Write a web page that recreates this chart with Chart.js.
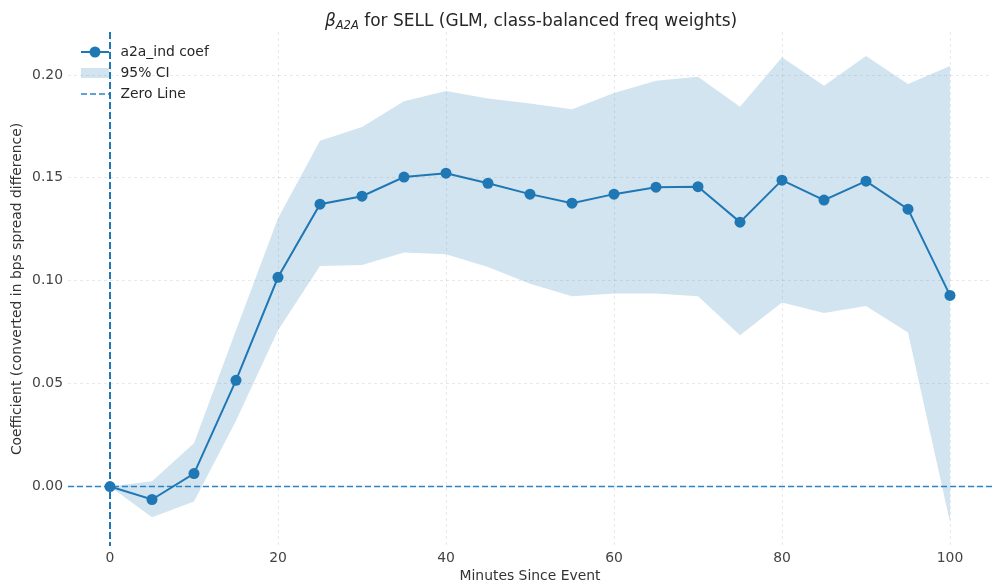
<!DOCTYPE html>
<html>
<head>
<meta charset="utf-8">
<script src="https://cdn.jsdelivr.net/npm/chart.js@4.4.0/dist/chart.umd.min.js"></script>
<style>
html,body{margin:0;padding:0;background:#fff;}
#wrap{width:992px;height:587px;position:relative;}
</style>
</head>
<body>
<div id="wrap"><canvas id="c" width="992" height="587"></canvas></div>
<script>
// ---- data ----
const minutes = [0,5,10,15,20,25,30,35,40,45,50,55,60,65,70,75,80,85,90,95,100];
const coef    = [0,-0.0063,0.0063,0.0516,0.1017,0.1372,0.1411,0.1504,0.1523,0.1474,0.1421,0.1377,0.1421,0.1455,0.1457,0.1285,0.1489,0.1392,0.1484,0.1348,0.0929];
const ciUpper = [0,0.0026,0.0210,0.0760,0.1304,0.1680,0.1747,0.1873,0.1922,0.1886,0.1862,0.1834,0.1912,0.1972,0.1992,0.1846,0.2086,0.1948,0.2092,0.1956,0.2044];
const ciLower = [0,-0.0149,-0.0073,0.0320,0.0759,0.1072,0.1077,0.1137,0.1129,0.1067,0.0986,0.0925,0.0938,0.0938,0.0925,0.0735,0.0894,0.0843,0.0877,0.0748,-0.0174];
const xTicks  = [0,20,40,60,80,100];
const yTicks  = [0,0.05,0.10,0.15,0.20];
const zeroX = 0;
const zeroY = 0;

const BLUE = '#1f77b4';
const ZBLUE = '#2a85c8';
const BAND = 'rgba(31,119,180,0.2)';
const FONT = "'DejaVu Sans', sans-serif";

const toPts = (ys) => minutes.map((m, i) => ({x: m, y: ys[i]}));

const overlay = {
  id: 'overlay',
  afterDatasetDraw(chart, args) {
    if (args.index !== 1) return;
    const {ctx, chartArea: a, scales: {x, y}} = chart;
    ctx.save();
    // horizontal zero line
    ctx.strokeStyle = ZBLUE;
    ctx.lineWidth = 1.6;
    ctx.setLineDash([6, 3]);
    const py = Math.floor(y.getPixelForValue(zeroY)) + 0.5;
    ctx.beginPath(); ctx.moveTo(a.left, py); ctx.lineTo(a.right, py); ctx.stroke();
    // vertical event line
    ctx.strokeStyle = BLUE;
    ctx.lineWidth = 2;
    ctx.setLineDash([7, 3]);
    const px = Math.round(x.getPixelForValue(zeroX));
    ctx.beginPath(); ctx.moveTo(px, a.top); ctx.lineTo(px, a.bottom); ctx.stroke();
    ctx.restore();
  },
  afterDraw(chart) {
    const {ctx} = chart;
    ctx.save();
    // title
    const big = 17, sub = 11.5;
    const rest = ' for SELL (GLM, class-balanced freq weights)';
    ctx.fillStyle = '#262626';
    ctx.textBaseline = 'alphabetic';
    ctx.font = `italic ${big}px ${FONT}`;
    const wb = ctx.measureText('\u03B2').width;
    ctx.font = `italic ${sub}px ${FONT}`;
    const ws = ctx.measureText('A2A').width;
    ctx.font = `${big}px ${FONT}`;
    const wr = ctx.measureText(rest).width;
    const a = chart.chartArea;
    let tx = (a.left + a.right) / 2 - (wb + ws + wr) / 2 + 1;
    const base = 25.5;
    ctx.textAlign = 'left';
    ctx.font = `italic ${big}px ${FONT}`;
    ctx.fillText('\u03B2', tx, base); tx += wb;
    ctx.font = `italic ${sub}px ${FONT}`;
    ctx.fillText('A2A', tx, base + 3.5); tx += ws;
    ctx.font = `${big}px ${FONT}`;
    ctx.fillText(rest, tx, base);

    // legend
    const lx0 = 81, lx1 = 109, tX = 120.5;
    const rows = [52, 73, 94];
    ctx.font = `13.9px ${FONT}`;
    ctx.textBaseline = 'middle';
    ctx.strokeStyle = BLUE; ctx.lineWidth = 2; ctx.setLineDash([]);
    ctx.beginPath(); ctx.moveTo(lx0, rows[0]); ctx.lineTo(lx1, rows[0]); ctx.stroke();
    ctx.fillStyle = BLUE;
    ctx.beginPath(); ctx.arc((lx0 + lx1) / 2, rows[0], 5.5, 0, Math.PI * 2); ctx.fill();
    ctx.fillStyle = BAND;
    ctx.fillRect(lx0, rows[1] - 5, lx1 - lx0, 10);
    ctx.strokeStyle = ZBLUE; ctx.lineWidth = 1.6; ctx.setLineDash([6, 3]);
    ctx.beginPath(); ctx.moveTo(lx0, rows[2]); ctx.lineTo(lx1, rows[2]); ctx.stroke();
    ctx.setLineDash([]);
    ctx.fillStyle = '#262626';
    ctx.fillText('a2a_ind coef', tX, rows[0]);
    ctx.fillText('95% CI', tX, rows[1]);
    ctx.fillText('Zero Line', tX, rows[2]);
    ctx.restore();
  }
};

new Chart(document.getElementById('c'), {
  type: 'line',
  data: {
    datasets: [
      {label: '95% CI upper', data: toPts(ciUpper), borderWidth: 0, pointRadius: 0,
       backgroundColor: BAND, borderColor: 'rgba(0,0,0,0)', fill: '+1', tension: 0, order: 3},
      {label: '95% CI lower', data: toPts(ciLower), borderWidth: 0, pointRadius: 0,
       borderColor: 'rgba(0,0,0,0)', fill: false, tension: 0, order: 2},
      {label: 'a2a_ind coef', data: toPts(coef), borderColor: BLUE, backgroundColor: BLUE,
       borderWidth: 2, pointRadius: 5.5, pointBackgroundColor: BLUE, pointBorderWidth: 0,
       fill: false, tension: 0, order: 0}
    ]
  },
  options: {
    responsive: false,
    animation: false,
    devicePixelRatio: 1,
    layout: {autoPadding: false, padding: {top: 32, right: 0, left: 0, bottom: 0}},
    plugins: {legend: {display: false}, title: {display: false}, tooltip: {enabled: false}},
    scales: {
      x: {
        type: 'linear', min: -5, max: 105,
        afterBuildTicks: (s) => { s.ticks = xTicks.map(v => ({value: v})); },
        afterFit: (s) => { s.height = 41; s.paddingLeft = 0; s.paddingRight = 0; },
        grid: {color: 'rgba(0,0,0,0.11)', lineWidth: 0.8, drawTicks: false},
        border: {display: false, dash: [3, 3]},
        ticks: {color: '#444', font: {family: FONT, size: 13.9}, padding: 4, maxRotation: 0},
        title: {display: true, text: 'Minutes Since Event', color: '#333',
                font: {family: FONT, size: 13.9}, padding: {top: 0, bottom: 2}}
      },
      y: {
        type: 'linear', min: -0.0289, max: 0.2209,
        afterBuildTicks: (s) => { s.ticks = yTicks.map(v => ({value: v})); },
        afterFit: (s) => { s.width = 68; s.paddingTop = 0; s.paddingBottom = 0; },
        grid: {color: 'rgba(0,0,0,0.11)', lineWidth: 0.8, drawTicks: false},
        border: {display: false, dash: [3, 3]},
        ticks: {color: '#444', font: {family: FONT, size: 13.9}, padding: 5,
                callback: (v) => Number(v).toFixed(2)},
        title: {display: true, text: 'Coefficient (converted in bps spread difference)', color: '#333',
                font: {family: FONT, size: 13.9}, padding: {top: 9, bottom: 0}}
      }
    }
  },
  plugins: [overlay]
});
</script>
</body>
</html>
